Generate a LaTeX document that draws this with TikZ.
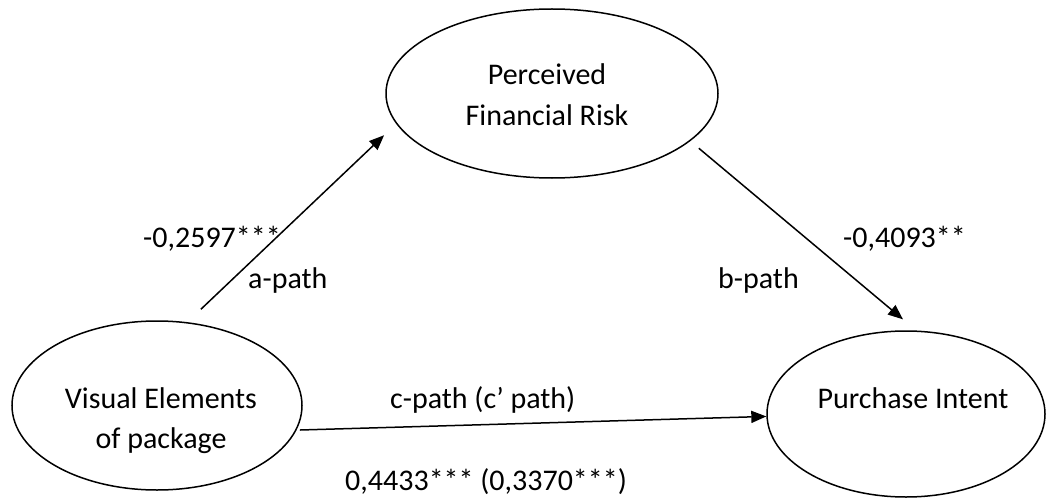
\documentclass[tikz,border=0pt]{standalone}
\usepackage{fontspec}
\setmainfont{Carlito}
\usetikzlibrary{positioning,shapes.geometric,arrows.meta}

\begin{document}
\begin{tikzpicture}[x=1pt, y=-1pt,
  construct/.style={draw, ellipse, line width=1.5pt, inner sep=0pt},
  caption/.style={inner sep=0pt, align=center, font=\fontsize{30}{40}\selectfont},
  coef/.style={inner sep=0pt, anchor=base west, font=\fontsize{30}{36}\selectfont},
  path arrow/.style={line width=1.5pt, -{Triangle[length=15pt, width=12pt]}}]
  \useasboundingbox (0,0) rectangle (1046,500);
  % constructs
  \node [construct, minimum width=332pt, minimum height=169pt] (pfr) at (552,93.5) {};
  \node [construct, minimum width=290pt, minimum height=169pt, on grid] [below left=312pt and 395pt of pfr] (vep) {};
  \node [construct, minimum width=278pt, minimum height=166pt, on grid] [below right=320.5pt and 354pt of pfr] (pi) {};
  \node [caption, anchor=base] (pfr text) at (547,125) {Perceived\\Financial Risk};
  \node [caption, anchor=base] (vep text) at (161,448) {Visual Elements\\of package};
  \node [caption, anchor=base] (pi text) at (913,408) {Purchase Intent};
  % paths
  \draw [path arrow, shorten <=18.6pt, shorten >=16.6pt] (vep.70.4) -- (pfr.191);
  \draw [path arrow, shorten <=11.1pt, shorten >=17.3pt] (pfr.341) -- (pi.83.6);
  \draw [path arrow, shorten <=3.3pt] (vep.350.8) -- (pi.181.6);
  % coefficients
  \node [coef] (a coef) at (143,247) {-0,2597***};
  \node [coef] (a name) at (248,288) {a-path};
  \node [coef] (b coef) at (843,247) {-0,4093**};
  \node [coef] (b name) at (718,288) {b-path};
  \node [coef] (c name) at (390,408) {c-path (c’ path)};
  \node [coef] (c coef) at (345,490) {0,4433*** (0,3370***)};
\end{tikzpicture}
\end{document}
